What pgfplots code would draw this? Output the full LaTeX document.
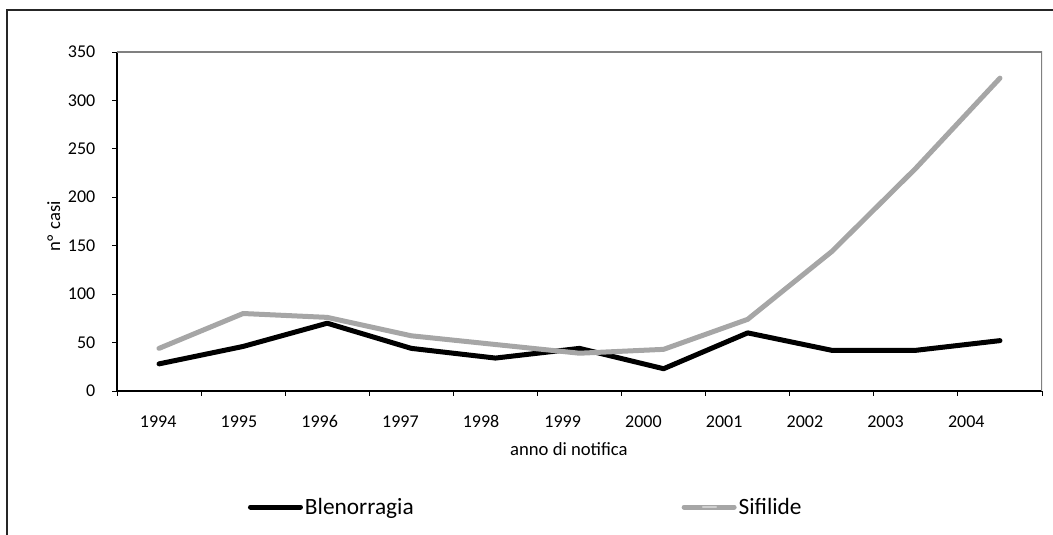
\documentclass[border=0pt]{standalone}
\usepackage{pgfplots}
\pgfplotsset{compat=1.18}
\usepackage{fontspec}
\setmainfont{Carlito}
\definecolor{sifgray}{HTML}{A6A6A6}
\definecolor{siflight}{HTML}{CFCFCF}
\begin{document}
\begin{tikzpicture}[x=0.75pt,y=0.75pt]
\useasboundingbox (0,0) rectangle (1053,535);
\draw[line width=0.9pt,black!85] (7,0) -- (7,525) -- (1053,525);
\begin{axis}[
  at={(87.75pt,108pt)}, anchor=south west,
  scale only axis, width=693.75pt, height=254.25pt,
  xmin=-0.5, xmax=10.5, ymin=0, ymax=350,
  axis x line*=bottom, axis y line*=left,
  axis line style={black, line width=0.8pt, -},
  xtick={-0.01,0.95,1.91,2.87,3.83,4.80,5.76,6.72,7.68,8.64,9.60},
  xticklabels={1994,1995,1996,1997,1998,1999,2000,2001,2002,2003,2004},
  major x tick style={draw=none},
  minor xtick={-0.5,0.5,...,10.5},
  minor x tick style={black, line width=0.7pt},
  minor tick length=3.75pt,
  ytick={0,50,...,350},
  major y tick style={black, line width=0.7pt},
  major tick length=3.75pt,
  tick align=outside,
  /pgf/number format/assume math mode=true,
  xticklabel style={font=\fontsize{13.5}{15}\selectfont, anchor=base, yshift=-24pt},
  yticklabel style={font=\fontsize{13.5}{15}\selectfont, anchor=base east, yshift=-4.2pt, xshift=-9pt},
  xlabel={anno di notifica},
  xlabel style={font=\fontsize{14}{16}\selectfont, at={(rel axis cs:0.4886,-0.1917)}, anchor=base},
  ylabel={n°\hspace{0.3em}casi},
  ylabel style={font=\fontsize{14}{16}\selectfont, at={(rel axis cs:-0.0616,0.4867)}, anchor=base, rotate=0},
  legend columns=2,
  legend style={draw=none, fill=none, inner sep=0pt, outer sep=0pt,
    at={(rel axis cs:0.1416,-0.3422)}, anchor=west,
    font=\fontsize{17.5}{19}\selectfont,
    nodes={inner xsep=1.5pt, inner ysep=0pt},
    /tikz/every even column/.append style={column sep=0pt}},
  legend image code/.code={\draw[#1] (0pt,0pt) -- (37.5pt,0pt);},
]
\addplot[black, line width=3.75pt, line cap=round, line join=round] coordinates {
(0,28) (1,46) (2,70) (3,44) (4,34) (5,44) (6,23) (7,60) (8,42) (9,42) (10,52)};
\addlegendentry{\makebox[281pt][l]{Blenorragia}}
\addplot[sifgray, line width=3.75pt, line cap=round, line join=round,
  legend image code/.code={\draw[sifgray, line width=3.75pt, line cap=round] (0pt,0pt) -- (37.5pt,0pt);
    \draw[siflight, line width=1.5pt] (14pt,0pt) -- (24pt,0pt);}] coordinates {
(0,44) (1,80) (2,76) (3,57) (4,48) (5,39) (6,43) (7,74) (8,144) (9,230) (10,323)};
\addlegendentry{Sifilide}
\draw[gray, line width=0.8pt] (rel axis cs:0,1) -- (rel axis cs:1,1) -- (rel axis cs:1,0);
\end{axis}
\end{tikzpicture}
\end{document}
